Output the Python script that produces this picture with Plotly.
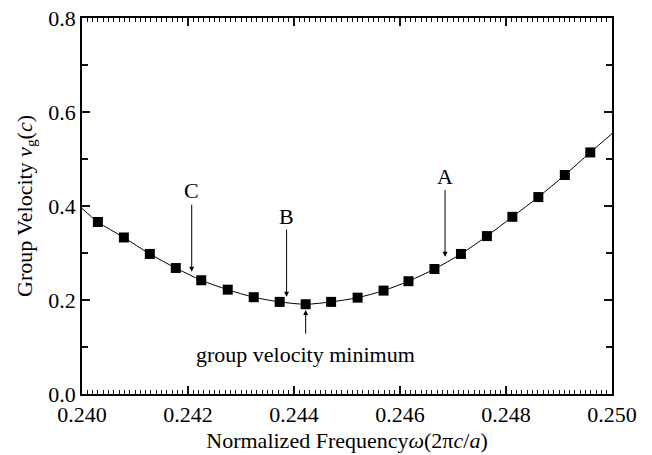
import plotly.graph_objects as go

freq = [0.24030, 0.24079, 0.24128, 0.24177, 0.24225, 0.24275, 0.24324, 0.24373,
        0.24422, 0.24470, 0.24520, 0.24569, 0.24616, 0.24665, 0.24715, 0.24764,
        0.24812, 0.24861, 0.24911, 0.24959]
vg = [0.366, 0.333, 0.298, 0.268, 0.242, 0.222, 0.206, 0.196, 0.191, 0.196,
      0.205, 0.220, 0.240, 0.266, 0.298, 0.336, 0.377, 0.419, 0.466, 0.514]

# smooth fitted curve: read endpoints at plot edges plus the data points
fit_freq = [0.2400] + freq + [0.2500]
fit_vg = [0.395] + vg + [0.554]

x_ticks = [0.240, 0.242, 0.244, 0.246, 0.248, 0.250]
x_tick_labels = ["0.240", "0.242", "0.244", "0.246", "0.248", "0.250"]
y_ticks = [0.0, 0.2, 0.4, 0.6, 0.8]
y_tick_labels = ["0.0", "0.2", "0.4", "0.6", "0.8"]
x_minor_step = 0.0001
y_minor_step = 0.1

# annotations: label, x, label y, arrow tail y, arrow tip y
labels = ["A", "B", "C"]
label_x = [0.24685, 0.24386, 0.24207]
label_y = [0.463, 0.377, 0.433]
tail_y = [0.437, 0.353, 0.406]
tip_y = [0.292, 0.207, 0.260]

min_text = "group velocity minimum"
min_x = 0.24422
min_text_y = 0.083
min_tail_y = 0.125
min_tip_y = 0.1785

FONT = "Liberation Serif, Times New Roman, serif"

fig = go.Figure()
fig.add_trace(go.Scatter(x=fit_freq, y=fit_vg, mode="lines",
                         line=dict(color="black", width=1, shape="spline", smoothing=0.8),
                         hoverinfo="skip", showlegend=False))
fig.add_trace(go.Scatter(x=freq, y=vg, mode="markers",
                         marker=dict(symbol="square", size=10, color="black"),
                         showlegend=False))

anns = []
for t, x, ly, ty, py in zip(labels, label_x, label_y, tail_y, tip_y):
    anns.append(dict(x=x, y=ly, text=t, showarrow=False, xref="x", yref="y",
                     font=dict(family=FONT, size=22, color="black")))
    anns.append(dict(x=x, y=py, ax=x, ay=ty, axref="x", ayref="y", xref="x", yref="y",
                     text="", showarrow=True, arrowhead=2, arrowsize=1,
                     arrowwidth=1, arrowcolor="black"))
anns.append(dict(x=min_x, y=min_text_y, text=min_text, showarrow=False, xref="x", yref="y",
                 font=dict(family=FONT, size=22, color="black")))
anns.append(dict(x=min_x, y=min_tip_y, ax=min_x, ay=min_tail_y, axref="x", ayref="y",
                 xref="x", yref="y", text="", showarrow=True, arrowhead=2, arrowsize=1,
                 arrowwidth=1, arrowcolor="black"))

fig.update_layout(
    width=652, height=455,
    margin=dict(l=82, r=40, t=18, b=61),
    paper_bgcolor="white", plot_bgcolor="white",
    font=dict(family=FONT, size=22, color="black"),
    annotations=anns,
    xaxis=dict(range=[x_ticks[0], x_ticks[-1]], tickvals=x_ticks, ticktext=x_tick_labels,
               ticks="inside", ticklen=8, tickwidth=1.5, tickcolor="#111",
               minor=dict(ticks="inside", ticklen=4, tickwidth=1, tickcolor="#111",
                          dtick=x_minor_step),
               showline=True, linecolor="black", linewidth=1.5, mirror="allticks",
               showgrid=False, zeroline=False, automargin=False,
               title=dict(text="Normalized Frequency<i>ω</i>(2π<i>c</i>/<i>a</i>)",
                          font=dict(size=22), standoff=6)),
    yaxis=dict(range=[y_ticks[0], y_ticks[-1]], tickvals=y_ticks, ticktext=y_tick_labels,
               ticks="inside", ticklen=8, tickwidth=1.5, tickcolor="#111",
               minor=dict(ticks="inside", ticklen=6, tickwidth=1.5, tickcolor="#111",
                          dtick=y_minor_step),
               showline=True, linecolor="black", linewidth=1.5, mirror="allticks",
               showgrid=False, zeroline=False, automargin=False,
               title=dict(text="Group Velocity <i>v</i><sub>g</sub>(<i>c</i>)",
                          font=dict(size=22), standoff=10)),
)

fig.write_html("out.html", post_script="document.body.style.margin='0';",
               config={"displayModeBar": False})
